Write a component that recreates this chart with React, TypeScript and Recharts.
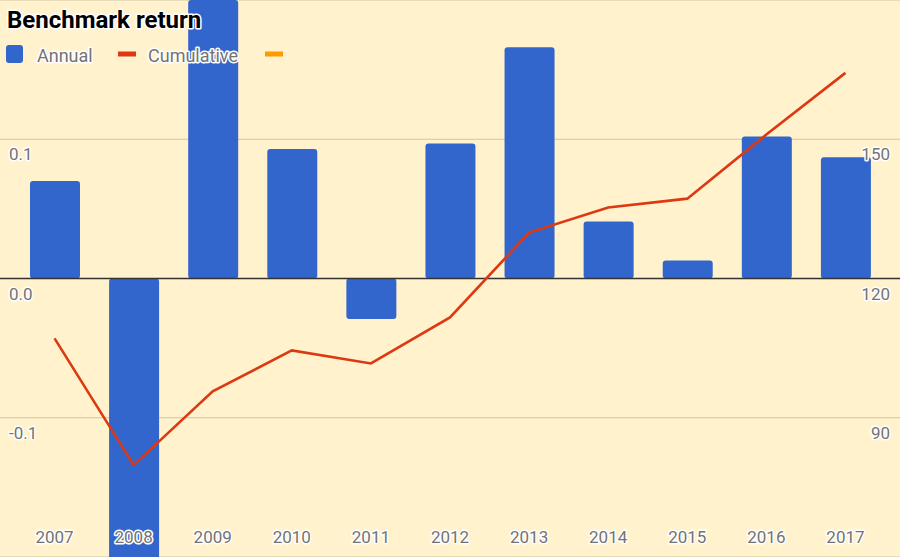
import React from 'react';
import { ComposedChart, Bar, Line, XAxis, YAxis, CartesianGrid, ReferenceLine } from 'recharts';

const years = ['2007', '2008', '2009', '2010', '2011', '2012', '2013', '2014', '2015', '2016', '2017'];
const annual = [0.07, -0.255, 0.2, 0.093, -0.029, 0.097, 0.166, 0.041, 0.013, 0.102, 0.087];
const cumulative = [107.1, 79.8, 95.7, 104.5, 101.7, 111.6, 129.9, 135.3, 137.2, 151.0, 164.3];
const leftTicks = [-0.2, -0.1, 0, 0.1, 0.2];
const rightTicks = [60, 90, 120, 150, 180];
const legendItems = [
  { label: 'Annual', color: '#3366CC', kind: 'square' },
  { label: 'Cumulative', color: '#DC3912', kind: 'line' },
  { label: '', color: '#FF9900', kind: 'line' },
];

const data = years.map((y, i) => ({ year: y, annual: annual[i], cumulative: cumulative[i] }));

const TEXT = '#737373';
const FONT = 'Roboto, sans-serif';
const BG = '#FFF2CC';
const GRID = '#d2c6a3';
const halo: any = { stroke: '#ffffff', strokeWidth: 3, paintOrder: 'stroke', strokeLinejoin: 'round' };

const LeftTick = (props: any) => {
  const { x, y, payload } = props;
  if (Math.abs(payload.value) > 0.15) return <g />;
  return (
    <text x={x} y={y + 21} fill={TEXT} fontSize={17} fontFamily={FONT} textAnchor="start" {...halo}>
      {Number(payload.value).toFixed(1)}
    </text>
  );
};

const RightTick = (props: any) => {
  const { x, y, payload } = props;
  if (payload.value > 170 || payload.value < 70) return <g />;
  return (
    <text x={x} y={y + 21} fill={TEXT} fontSize={17} fontFamily={FONT} textAnchor="end" {...halo}>
      {payload.value}
    </text>
  );
};

const BottomTick = (props: any) => {
  const { x, y, payload } = props;
  return (
    <text x={x} y={y - 14} fill={TEXT} fontSize={17} fontFamily={FONT} textAnchor="middle" {...halo}>
      {payload.value}
    </text>
  );
};

const legendX = [6, 118, 265];

export default function App() {
  return (
    <div style={{ position: 'absolute', left: 0, top: 0, width: 900, height: 557, background: BG, overflow: 'hidden' }}>
      <ComposedChart width={900} height={557} data={data} margin={{ top: 0, right: 0, bottom: 0, left: 0 }}>
        <CartesianGrid yAxisId="left" vertical={false} stroke={GRID} strokeWidth={1.2} />
        <XAxis
          dataKey="year"
          mirror
          axisLine={false}
          tickLine={false}
          tickSize={0}
          tickMargin={0}
          padding={{ left: 15, right: 15 }}
          tick={<BottomTick />}
          interval={0}
        />
        <YAxis
          yAxisId="left"
          mirror
          domain={[-0.2, 0.2]}
          allowDataOverflow
          ticks={leftTicks}
          axisLine={false}
          tickLine={false}
          tickSize={0}
          tickMargin={9}
          tick={<LeftTick />}
        />
        <YAxis
          yAxisId="right"
          orientation="right"
          mirror
          domain={[60, 180]}
          allowDataOverflow
          ticks={rightTicks}
          axisLine={false}
          tickLine={false}
          tickSize={0}
          tickMargin={10}
          tick={<RightTick />}
        />
        <Bar yAxisId="left" dataKey="annual" fill="#3366CC" barSize={50} radius={3} isAnimationActive={false} />
        <ReferenceLine yAxisId="left" y={0} stroke="#333333" strokeWidth={1.3} />
        <Line
          yAxisId="right"
          dataKey="cumulative"
          type="linear"
          stroke="#DC3912"
          strokeWidth={2.6}
          dot={false}
          activeDot={false}
          isAnimationActive={false}
        />
      </ComposedChart>
      <svg width={900} height={557} style={{ position: 'absolute', left: 0, top: 0, pointerEvents: 'none' }}>
        <text x={7} y={28} fontSize={24} fontWeight="bold" fill="#000" fontFamily={FONT} {...halo}>
          Benchmark return
        </text>
        {legendItems.map((it, i) => (
          <g key={i}>
            {it.kind === 'square' ? (
              <rect x={legendX[i]} y={45} width={17} height={18} rx={3} fill={it.color} />
            ) : (
              <rect x={legendX[i]} y={51.5} width={18} height={5} fill={it.color} />
            )}
            {it.label ? (
              <text x={legendX[i] + 31 - (it.kind === 'square' ? 0 : 1)} y={62} fontSize={18} fill={TEXT} fontFamily={FONT} {...halo}>
                {it.label}
              </text>
            ) : null}
          </g>
        ))}
      </svg>
    </div>
  );
}
